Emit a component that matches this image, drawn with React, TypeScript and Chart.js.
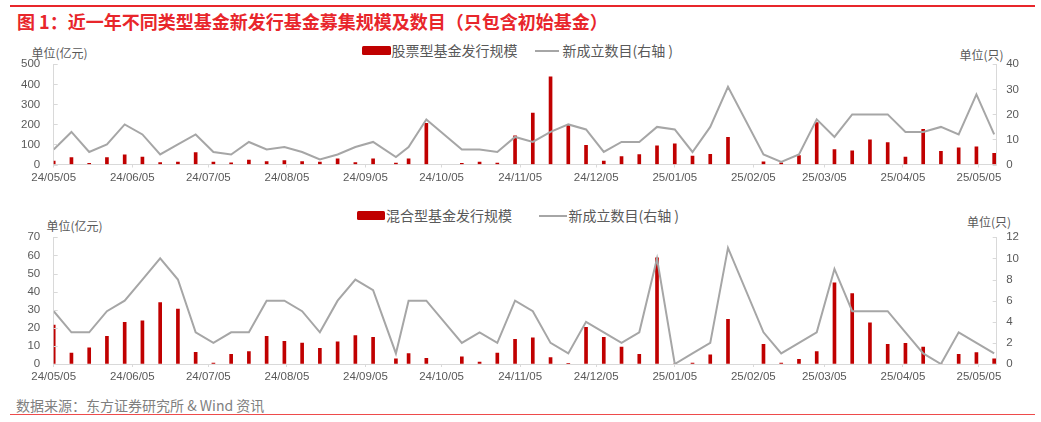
import React, { useEffect, useRef } from 'react';
import { Chart, registerables } from 'chart.js';

Chart.register(...registerables);

// ---------- data ----------
const DATES = [
  '2024-05-05', '2024-05-12', '2024-05-19', '2024-05-26', '2024-06-02', '2024-06-09', '2024-06-16', '2024-06-23',
  '2024-06-30', '2024-07-07', '2024-07-14', '2024-07-21', '2024-07-28', '2024-08-04', '2024-08-11', '2024-08-18',
  '2024-08-25', '2024-09-01', '2024-09-08', '2024-09-17', '2024-09-22', '2024-09-29', '2024-10-13', '2024-10-20',
  '2024-10-27', '2024-11-03', '2024-11-10', '2024-11-17', '2024-11-24', '2024-12-01', '2024-12-08', '2024-12-15',
  '2024-12-22', '2024-12-29', '2025-01-05', '2025-01-12', '2025-01-19', '2025-01-26', '2025-02-09', '2025-02-16',
  '2025-02-23', '2025-03-02', '2025-03-09', '2025-03-16', '2025-03-23', '2025-03-30', '2025-04-06', '2025-04-13',
  '2025-04-20', '2025-04-27', '2025-05-04', '2025-05-11',
];

// 股票型基金发行规模 (亿元)
const STOCK_SCALE = [
  17, 35, 6, 35, 48, 37, 10, 12,
  60, 12, 8, 22, 15, 20, 15, 12,
  28, 10, 28, 7, 28, 206, 6, 12,
  7, 143, 256, 437, 196, 96, 17, 40,
  50, 93, 103, 42, 51, 135, 13, 8,
  45, 209, 75, 68, 123, 110, 37, 176,
  66, 83, 88, 56,
];
// 股票型 新成立数目 (只)
const STOCK_COUNT = [
  6, 13, 5, 8, 16, 12, 4, 8,
  12, 5, 4, 9, 6, 7, 5, 2,
  4, 7, 9, 3, 7, 18, 6, 6,
  5, 11, 9, 13, 16, 14, 5, 9,
  9, 15, 14, 5, 15, 31, 4, 1,
  4, 18, 11, 20, 20, 20, 13, 13,
  15, 12, 28, 12,
];
// 混合型基金发行规模 (亿元)
const MIXED_SCALE = [
  21.5, 6.1, 9, 15.3, 23, 23.8, 33.9, 30.4,
  6.4, 0.5, 5.3, 6.8, 15.3, 12.5, 11.6, 8.7,
  12.3, 15.7, 14.7, 2.9, 5.7, 3.1, 4, 1.1,
  6.1, 13.6, 14.5, 3.5, 0.4, 20.3, 14.7, 9.4,
  5.3, 58.7, 0, 0.5, 5, 24.7, 10.9, 0.5,
  2.6, 6.8, 44.9, 38.9, 22.8, 10.9, 11.4, 9.4,
  0, 5.3, 6.3, 2.9,
];
// 混合型 新成立数目 (只)
const MIXED_COUNT = [
  5, 3, 3, 5, 6, 8, 10, 8,
  3, 2, 3, 3, 6, 6, 5, 3,
  6, 8, 7, 1, 6, 6, 2, 3,
  2, 6, 5, 2, 1, 4, 3, 2,
  3, 10, 0, 1, 2, 11, 3, 1,
  2, 3, 9, 5, 5, 5, 3, 1,
  0, 3, 2, 1,
];

const TICK_LABELS = [
  '24/05/05', '24/06/05', '24/07/05', '24/08/05', '24/09/05', '24/10/05', '24/11/05',
  '24/12/05', '25/01/05', '25/02/05', '25/03/05', '25/04/05', '25/05/05',
];

const X_START = '2024-05-05';
const X_END = '2025-05-12';

// ---------- helpers ----------
const BASE = Date.UTC(2024, 4, 5);
const dayOf = (iso: string) => {
  const [y, m, d] = iso.split('-').map(Number);
  return (Date.UTC(y, m - 1, d) - BASE) / 86400000;
};
const labelDay = (lab: string) => {
  const [yy, mm, dd] = lab.split('/');
  return dayOf(`20${yy}-${mm}-${dd}`);
};

const TICK_DAYS = TICK_LABELS.map(labelDay);
const X_DAYS = DATES.map(dayOf);

const NUM_FONT = "'Liberation Sans', Arial, 'Noto Sans CJK SC', sans-serif";
const CJK_FONT = "'Noto Sans CJK SC', 'Liberation Sans', sans-serif";
const TEXT = '#595959';
const AXIS = '#d9d9d9';
const BAR = '#c00000';
const LINE = '#a6a6a6';

const innerTicks = {
  id: 'innerTicks',
  afterDraw(chart: any) {
    const ctx = chart.ctx;
    ctx.save();
    ctx.strokeStyle = AXIS;
    ctx.lineWidth = 1;
    ['y', 'y1'].forEach((id) => {
      const s = chart.scales[id];
      const x0 = id === 'y' ? s.right : s.left;
      const dir = id === 'y' ? 1 : -1;
      s.ticks.forEach((t: any) => {
        const yy = Math.round(s.getPixelForValue(t.value)) + 0.5;
        ctx.beginPath();
        ctx.moveTo(x0, yy);
        ctx.lineTo(x0 + dir * 4, yy);
        ctx.stroke();
      });
    });
    ctx.restore();
  },
};

type PanelProps = {
  top: number;
  height: number;
  padTop: number;
  xAxisH: number;
  bars: number[];
  counts: number[];
  leftMax: number;
  leftStep: number;
  rightMax: number;
  rightStep: number;
};

function Panel(p: PanelProps) {
  const ref = useRef<HTMLCanvasElement | null>(null);
  useEffect(() => {
    if (!ref.current) return;
    const tickFont = { family: NUM_FONT, size: 11.5 };
    const chart = new Chart(ref.current, {
      type: 'bar',
      data: {
        datasets: [
          {
            type: 'line',
            data: X_DAYS.map((x, i) => ({ x, y: p.counts[i] })),
            borderColor: LINE,
            borderWidth: 2,
            pointRadius: 0,
            tension: 0,
            yAxisID: 'y1',
            order: 0,
          } as any,
          {
            type: 'bar',
            data: X_DAYS.map((x, i) => ({ x, y: p.bars[i] })),
            backgroundColor: BAR,
            barThickness: 3,
            yAxisID: 'y',
            order: 1,
          } as any,
        ],
      },
      options: {
        animation: false,
        responsive: false,
        maintainAspectRatio: false,
        layout: { padding: { top: p.padTop, left: 0, right: 0, bottom: 0 } },
        plugins: { legend: { display: false }, tooltip: { enabled: false }, title: { display: false } },
        scales: {
          x: {
            type: 'linear',
            offset: false,
            min: dayOf(X_START),
            max: dayOf(X_END),
            grid: { display: true, offset: false, drawOnChartArea: false, drawTicks: true, tickLength: 3, color: AXIS },
            border: { display: true, color: AXIS, width: 1 },
            afterBuildTicks: (s: any) => {
              s.ticks = TICK_DAYS.map((v) => ({ value: v }));
            },
            afterFit: (s: any) => {
              s.height = p.xAxisH;
            },
            ticks: {
              autoSkip: false,
              maxRotation: 0,
              minRotation: 0,
              padding: 3,
              color: TEXT,
              font: tickFont,
              callback: (v: any) => {
                const i = TICK_DAYS.indexOf(Number(v));
                return i >= 0 ? TICK_LABELS[i] : '';
              },
            },
          },
          y: {
            type: 'linear',
            position: 'left',
            min: 0,
            max: p.leftMax,
            grid: { display: true, drawOnChartArea: false, drawTicks: true, tickLength: 13.5, tickColor: 'rgba(0,0,0,0)' },
            border: { display: true, color: AXIS, width: 1 },
            afterFit: (s: any) => {
              s.width = 53.7;
            },
            ticks: { stepSize: p.leftStep, autoSkip: false, padding: 0, color: TEXT, font: tickFont },
          },
          y1: {
            type: 'linear',
            position: 'right',
            min: 0,
            max: p.rightMax,
            grid: { display: true, drawOnChartArea: false, drawTicks: true, tickLength: 9.5, tickColor: 'rgba(0,0,0,0)' },
            border: { display: true, color: AXIS, width: 1 },
            afterFit: (s: any) => {
              s.width = 44.3;
            },
            ticks: { stepSize: p.rightStep, autoSkip: false, padding: 0, color: TEXT, font: tickFont },
          },
        },
      } as any,
      plugins: [innerTicks],
    });
    return () => chart.destroy();
  }, []);
  return (
    <canvas
      ref={ref}
      width={1041}
      height={p.height}
      style={{ position: 'absolute', left: 0, top: p.top, width: 1041, height: p.height }}
    />
  );
}

function Txt(props: { left: number; cy: number; size: number; color: string; children: any; bold?: boolean; family?: string }) {
  const lh = Math.round(props.size * 1.5);
  return (
    <div
      style={{
        position: 'absolute',
        left: props.left,
        top: props.cy - lh / 2,
        lineHeight: `${lh}px`,
        fontSize: props.size,
        color: props.color,
        fontWeight: props.bold ? 'bold' : 'normal',
        fontFamily: props.family || CJK_FONT,
        whiteSpace: 'nowrap',
      }}
    >
      {props.children}
    </div>
  );
}

function Legend(props: { cy: number; boxLeft: number; boxW: number; label: string; textLeft: number; lineLeft: number; lineW: number; lineTextLeft: number }) {
  return (
    <>
      <div
        style={{
          position: 'absolute',
          left: props.boxLeft,
          top: props.cy - 4.3,
          width: props.boxW,
          height: 8.6,
          background: BAR,
          borderRadius: 1.5,
        }}
      />
      <Txt left={props.textLeft} cy={props.cy} size={14} color={TEXT}>{props.label}</Txt>
      <div
        style={{
          position: 'absolute',
          left: props.lineLeft,
          top: props.cy - 1,
          width: props.lineW,
          height: 2,
          background: LINE,
        }}
      />
      <Txt left={props.lineTextLeft} cy={props.cy} size={14} color={TEXT}>新成立数目(右轴 )</Txt>
    </>
  );
}

export default function App() {
  return (
    <div
      style={{
        position: 'absolute',
        left: 0,
        top: 0,
        width: 1041,
        height: 422,
        background: '#ffffff',
        overflow: 'hidden',
      }}
    >
      <div style={{ position: 'absolute', left: 10, top: 5, width: 1025, height: 1.5, background: '#e8262b' }} />
      <Txt left={17} cy={21} size={18} color="#e8262b" bold>
        图 1：近一年不同类型基金新发行基金募集规模及数目（只包含初始基金）
      </Txt>

      <Legend
        cy={50.5}
        boxLeft={361.7}
        boxW={29}
        label="股票型基金发行规模"
        textLeft={391.5}
        lineLeft={535}
        lineW={24.3}
        lineTextLeft={562.5}
      />
      <Txt left={31.5} cy={53} size={12} color={TEXT}>单位(亿元)</Txt>
      <Txt left={959.5} cy={55} size={12} color={TEXT}>单位(只)</Txt>
      <Panel
        top={56}
        height={134}
        padTop={8.3}
        xAxisH={25.5}
        bars={STOCK_SCALE}
        counts={STOCK_COUNT}
        leftMax={500}
        leftStep={100}
        rightMax={40}
        rightStep={10}
      />

      <Legend
        cy={215.5}
        boxLeft={356.7}
        boxW={28.6}
        label="混合型基金发行规模"
        textLeft={386}
        lineLeft={539}
        lineW={27.7}
        lineTextLeft={568.5}
      />
      <Txt left={46.5} cy={225.7} size={12} color={TEXT}>单位(亿元)</Txt>
      <Txt left={967} cy={221.7} size={12} color={TEXT}>单位(只)</Txt>
      <Panel
        top={229}
        height={161}
        padTop={8.3}
        xAxisH={26}
        bars={MIXED_SCALE}
        counts={MIXED_COUNT}
        leftMax={70}
        leftStep={10}
        rightMax={12}
        rightStep={2}
      />

      <Txt left={16} cy={405.5} size={14} color="#7f7f7f">数据来源：东方证券研究所 &amp; Wind 资讯</Txt>
      <div style={{ position: 'absolute', left: 10, top: 413.5, width: 1025, height: 1.5, background: '#ee4b4b' }} />
    </div>
  );
}
